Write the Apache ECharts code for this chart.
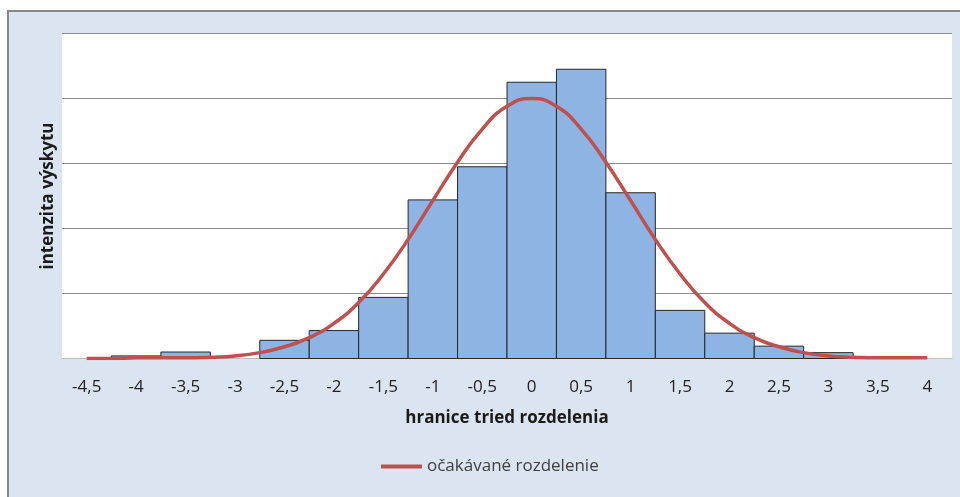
<!DOCTYPE html>
<html>
<head>
<meta charset="utf-8">
<script src="https://cdn.jsdelivr.net/npm/echarts@6/dist/echarts.min.js"></script>
<style>
  html, body { margin: 0; padding: 0; overflow: hidden; background: #fff; }
  #frame { position: absolute; left: 7px; top: 10px; width: 1000px; height: 600px;
           border: 2px solid #878787; background: #dbe5f1; }
  #chart-container { position: absolute; left: 0; top: 0; width: 960px; height: 497px; }
</style>
</head>
<body>
<div id="frame"></div>
<div id="chart-container"></div>
<script>
var dom = document.getElementById('chart-container');
var myChart = echarts.init(dom, null, { renderer: 'canvas' });

// histogram: class centres and intensities
var binCenters = [-4, -3.5, -3, -2.5, -2, -1.5, -1, -0.5, 0, 0.5, 1, 1.5, 2, 2.5, 3];
var binValues = [0.04, 0.1, 0, 0.28, 0.43, 0.94, 2.44, 2.95, 4.25, 4.45, 2.55, 0.74, 0.39, 0.19, 0.09];
var binWidth = 0.5;

// expected distribution
var curveX = [-4.5, -4.25, -4, -3.75, -3.5, -3.25, -3, -2.75, -2.5, -2.25, -2, -1.75, -1.5, -1.25, -1, -0.75, -0.5, -0.25,
              0, 0.25, 0.5, 0.75, 1, 1.25, 1.5, 1.75, 2, 2.25, 2.5, 2.75, 3, 3.25, 3.5, 3.75, 4];
var curveY = [0, 0, 0.01, 0.01, 0.01, 0.02, 0.04, 0.09, 0.18, 0.32, 0.54, 0.86, 1.3, 1.83, 2.43, 3.02, 3.53, 3.88,
              4.0, 3.88, 3.53, 3.02, 2.43, 1.83, 1.3, 0.86, 0.54, 0.32, 0.18, 0.09, 0.04, 0.02, 0.01, 0.01, 0.01];

var barData = binCenters.map(function (c, i) { return [c, binValues[i]]; });
var lineData = curveX.map(function (x, i) { return [x, curveY[i]]; });

var option = {
    backgroundColor: 'transparent',
    textStyle: { fontFamily: '"Open Sans", sans-serif' },
    grid: {
        left: 62, right: 8, top: 33.5, bottom: 138.5,
        show: true, backgroundColor: '#ffffff', borderWidth: 0
    },
    xAxis: {
        type: 'value',
        min: -4.75, max: 4.25, interval: 0.25,
        name: 'hranice tried rozdelenia',
        nameLocation: 'middle',
        nameGap: 51,
        nameTextStyle: { fontSize: 17, fontWeight: 'bold', color: '#1a1a1a' },
        axisLine: { lineStyle: { color: '#bfbfbf', width: 1 } },
        axisTick: { show: false },
        splitLine: { show: false },
        axisLabel: {
            margin: 20, fontSize: 17, color: '#222',
            formatter: function (v) {
                if (Math.abs(v * 2 - Math.round(v * 2)) > 1e-6) return '';
                return String(Math.round(v * 2) / 2).replace('.', ',');
            }
        }
    },
    yAxis: {
        type: 'value',
        min: 0, max: 5, interval: 1,
        name: 'intenzita výskytu',
        nameLocation: 'middle',
        nameGap: 5,
        nameTextStyle: { fontSize: 17, fontWeight: 'bold', color: '#1a1a1a' },
        axisLine: { show: false },
        axisTick: { show: false },
        axisLabel: { show: false },
        splitLine: { lineStyle: { color: '#8c8c8c', width: 1 } }
    },
    legend: {
        data: ['očakávané rozdelenie'],
        left: 376, top: 453,
        icon: 'rect', itemWidth: 41, itemHeight: 4, itemGap: 4,
        textStyle: { fontSize: 17, color: '#404040' }
    },
    series: [
        {
            name: 'histogram',
            type: 'custom',
            data: barData,
            renderItem: function (params, api) {
                var c = api.value(0), h = api.value(1);
                if (!h) return;
                var p1 = api.coord([c - binWidth / 2, h]);
                var p2 = api.coord([c + binWidth / 2, 0]);
                return {
                    type: 'rect',
                    shape: { x: p1[0], y: p1[1], width: p2[0] - p1[0], height: p2[1] - p1[1] },
                    style: { fill: '#8eb4e3', stroke: '#262626', lineWidth: 1 }
                };
            },
            z: 2
        },
        {
            name: 'očakávané rozdelenie',
            type: 'line',
            data: lineData,
            smooth: true,
            showSymbol: false,
            symbol: 'none',
            itemStyle: { color: '#c0504d' },
            lineStyle: { color: '#c0504d', width: 3.5 },
            z: 3
        }
    ]
};

myChart.setOption(option);
window.addEventListener('resize', myChart.resize);
</script>
</body>
</html>
